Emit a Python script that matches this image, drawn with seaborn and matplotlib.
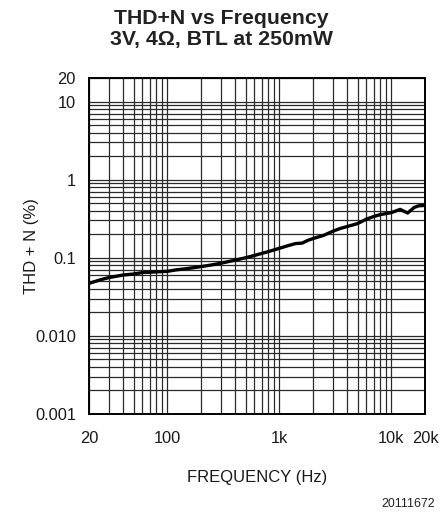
import numpy as np
import pandas as pd
import matplotlib
matplotlib.use("Agg")
import matplotlib.pyplot as plt
from matplotlib.ticker import FixedLocator, NullFormatter
import seaborn as sns

# THD+N measurement, 3V supply, 4 ohm load, BTL, 250mW output
freq_hz = [20, 25, 30, 40, 50, 60, 80, 100, 120, 150, 200, 250, 300, 400, 500,
           600, 800, 1000, 1200, 1400, 1600, 1800, 2000, 2500, 3000, 3500, 4000,
           5000, 6000, 7000, 8000, 10000, 12000, 14000, 16000, 17500, 20000]
thd_n_pct = [0.047, 0.052, 0.0557, 0.060, 0.062, 0.0646, 0.066, 0.067, 0.070,
             0.0726, 0.077, 0.081, 0.085, 0.093, 0.100, 0.107, 0.120, 0.132,
             0.143, 0.152, 0.154, 0.167, 0.176, 0.194, 0.218, 0.237, 0.250,
             0.274, 0.312, 0.338, 0.357, 0.378, 0.416, 0.374, 0.440, 0.462, 0.468]

x_ticks = [20, 100, 1000, 10000, 20000]
x_tick_labels = ["20", "100", "1k", "10k", "20k"]
y_ticks = [0.001, 0.01, 0.1, 1, 10, 20]
y_tick_labels = ["0.001", "0.010", "0.1", "1", "10", "20"]

df = pd.DataFrame({"freq": freq_hz, "thd": thd_n_pct})

sns.set_style("white")
plt.rcParams["font.family"] = ["Liberation Sans", "DejaVu Sans"]

fig = plt.figure(figsize=(4.42, 5.16), dpi=100)
ax = fig.add_axes([89 / 442, 1 - 414 / 516, 336 / 442, 336 / 516])

ax.set_xscale("log")
ax.set_yscale("log")
ax.set_xlim(20, 20000)
ax.set_ylim(0.001, 20)

# grid: every decade subdivision on both axes
x_minor = [m * 10 ** e for e in range(1, 5) for m in range(2, 10)
           if 20 < m * 10 ** e < 20000]
y_minor = [m * 10 ** e for e in range(-3, 2) for m in range(2, 10)
           if 0.001 < m * 10 ** e < 20]
ax.xaxis.set_major_locator(FixedLocator(x_ticks))
ax.xaxis.set_minor_locator(FixedLocator(x_minor))
ax.yaxis.set_major_locator(FixedLocator(y_ticks))
ax.yaxis.set_minor_locator(FixedLocator(y_minor))
ax.set_xticklabels(x_tick_labels)
ax.set_yticklabels(y_tick_labels)
ax.xaxis.set_minor_formatter(NullFormatter())
ax.yaxis.set_minor_formatter(NullFormatter())

ax.grid(True, which="both", color="#2a2a2a", linewidth=0.9)
ax.tick_params(which="both", length=0, labelsize=11.8, colors="#1a1a1a")
ax.tick_params(axis="x", pad=12.5)
ax.tick_params(axis="y", pad=9.5)

sns.lineplot(data=df, x="freq", y="thd", ax=ax, color="black",
             linewidth=2.4, zorder=5)

for s in ax.spines.values():
    s.set_color("black")
    s.set_linewidth(1.4)

ax.set_xlabel("FREQUENCY (Hz)", fontsize=12, color="#1a1a1a", labelpad=17)
ax.set_ylabel("THD + N (%)", fontsize=12, color="#1a1a1a", labelpad=-3)

fig.text(0.5, 1 - 29 / 516, "THD+N vs Frequency\n3V, 4Ω, BTL at 250mW",
         ha="center", va="center", fontsize=15.3, fontweight="bold",
         color="#222222", linespacing=1.15)
fig.text(435 / 442, 1 - 504 / 516, "20111672", ha="right", va="center",
         fontsize=8.9, color="#222222")

fig.savefig("out.png", dpi=100)
